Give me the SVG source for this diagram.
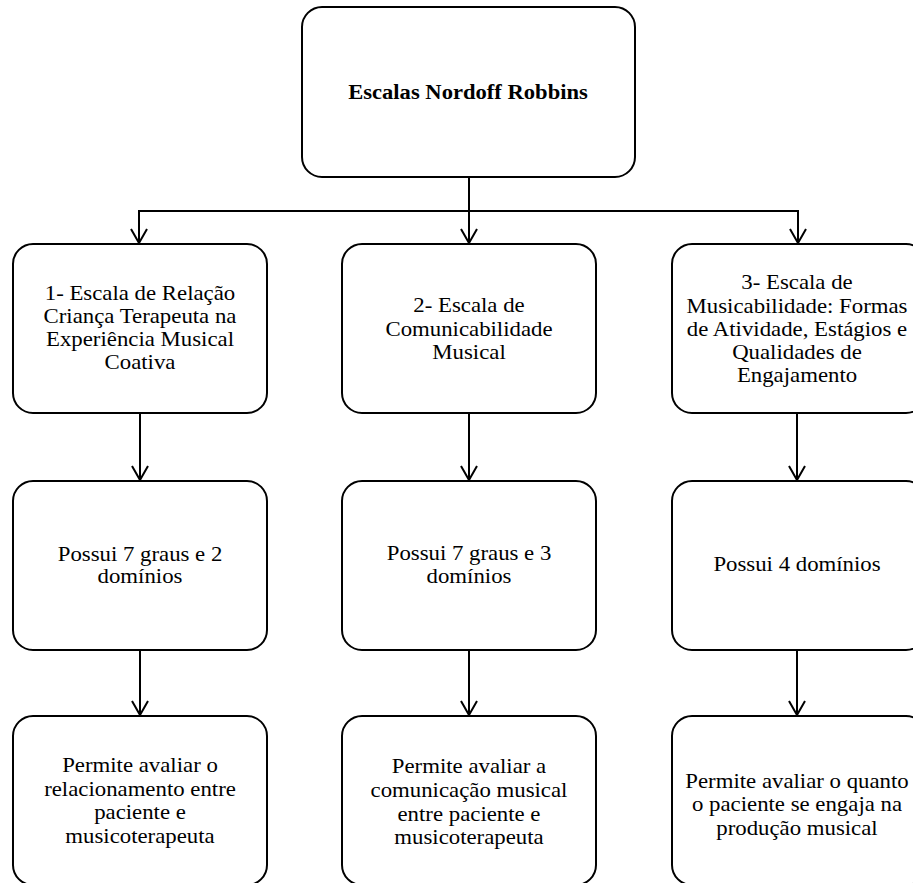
<svg xmlns="http://www.w3.org/2000/svg" width="913" height="883" viewBox="0 0 913 883">
<style>
.box{fill:#fff;stroke:#000;stroke-width:2}
.t{font-family:"Liberation Serif","Times New Roman",serif;font-size:20px;fill:#000;text-anchor:middle}
.b{font-weight:bold}
.c{fill:none;stroke:#000;stroke-width:2}
</style>
<defs>
<marker id="ah" viewBox="0 0 16 18" refX="15" refY="9" markerWidth="16" markerHeight="18" markerUnits="userSpaceOnUse" orient="auto">
<path d="M1,1 L15,9 L1,17" fill="none" stroke="#000" stroke-width="2"/>
</marker>
</defs>
<rect width="913" height="883" fill="#fff"/>
<g id="connectors">
<path class="c" d="M469,177 V243" marker-end="url(#ah)"/>
<path class="c" d="M139,243 V211 H798 V243" marker-end="url(#ah)"/>
<path class="c" d="M139,211 V243" marker-end="url(#ah)"/>
<path class="c" d="M140,413 V480" marker-end="url(#ah)"/>
<path class="c" d="M469,413 V480" marker-end="url(#ah)"/>
<path class="c" d="M797,413 V480" marker-end="url(#ah)"/>
<path class="c" d="M140,650 V715" marker-end="url(#ah)"/>
<path class="c" d="M469,650 V715" marker-end="url(#ah)"/>
<path class="c" d="M797,650 V715" marker-end="url(#ah)"/>
</g>
<g id="root">
<rect class="box" x="302" y="7" width="333" height="170" rx="20"/>
<text class="t b" transform="matrix(1.13 0 0 1 468 0)" x="0" y="99">Escalas Nordoff Robbins</text>
</g>
<g id="scale1">
<rect class="box" x="13" y="244" width="254" height="169" rx="20"/>
<text class="t" transform="matrix(1.14 0 0 1 140 0)"><tspan x="0" y="300">1- Escala de Relação</tspan><tspan x="0" y="323">Criança Terapeuta na</tspan><tspan x="0" y="346">Experiência Musical</tspan><tspan x="0" y="369">Coativa</tspan></text>
</g>
<g id="scale2">
<rect class="box" x="342" y="244" width="254" height="169" rx="20"/>
<text class="t" transform="matrix(1.14 0 0 1 469 0)"><tspan x="0" y="312">2- Escala de</tspan><tspan x="0" y="336">Comunicabilidade</tspan><tspan x="0" y="359">Musical</tspan></text>
</g>
<g id="scale3">
<rect class="box" x="672" y="244" width="254" height="169" rx="20"/>
<text class="t" transform="matrix(1.14 0 0 1 797 0)"><tspan x="0" y="289">3- Escala de</tspan><tspan x="0" y="313">Musicabilidade: Formas</tspan><tspan x="0" y="336">de Atividade, Estágios e</tspan><tspan x="0" y="359">Qualidades de</tspan><tspan x="0" y="382">Engajamento</tspan></text>
</g>
<g id="degrees1">
<rect class="box" x="13" y="481" width="254" height="169" rx="20"/>
<text class="t" transform="matrix(1.14 0 0 1 140 0)"><tspan x="0" y="561">Possui 7 graus e 2</tspan><tspan x="0" y="583">domínios</tspan></text>
</g>
<g id="degrees2">
<rect class="box" x="342" y="481" width="254" height="169" rx="20"/>
<text class="t" transform="matrix(1.14 0 0 1 469 0)"><tspan x="0" y="560">Possui 7 graus e 3</tspan><tspan x="0" y="583">domínios</tspan></text>
</g>
<g id="degrees3">
<rect class="box" x="672" y="481" width="254" height="169" rx="20"/>
<text class="t" transform="matrix(1.14 0 0 1 797 0)" x="0" y="571">Possui 4 domínios</text>
</g>
<g id="eval1">
<rect class="box" x="13" y="716" width="254" height="169" rx="20"/>
<text class="t" transform="matrix(1.14 0 0 1 140 0)"><tspan x="0" y="772">Permite avaliar o</tspan><tspan x="0" y="796">relacionamento entre</tspan><tspan x="0" y="819">paciente e</tspan><tspan x="0" y="843">musicoterapeuta</tspan></text>
</g>
<g id="eval2">
<rect class="box" x="342" y="716" width="254" height="169" rx="20"/>
<text class="t" transform="matrix(1.14 0 0 1 469 0)"><tspan x="0" y="773">Permite avaliar a</tspan><tspan x="0" y="797">comunicação musical</tspan><tspan x="0" y="821">entre paciente e</tspan><tspan x="0" y="844">musicoterapeuta</tspan></text>
</g>
<g id="eval3">
<rect class="box" x="672" y="716" width="254" height="169" rx="20"/>
<text class="t" transform="matrix(1.14 0 0 1 797 0)"><tspan x="0" y="788">Permite avaliar o quanto</tspan><tspan x="0" y="811">o paciente se engaja na</tspan><tspan x="0" y="835">produção musical</tspan></text>
</g>
</svg>
